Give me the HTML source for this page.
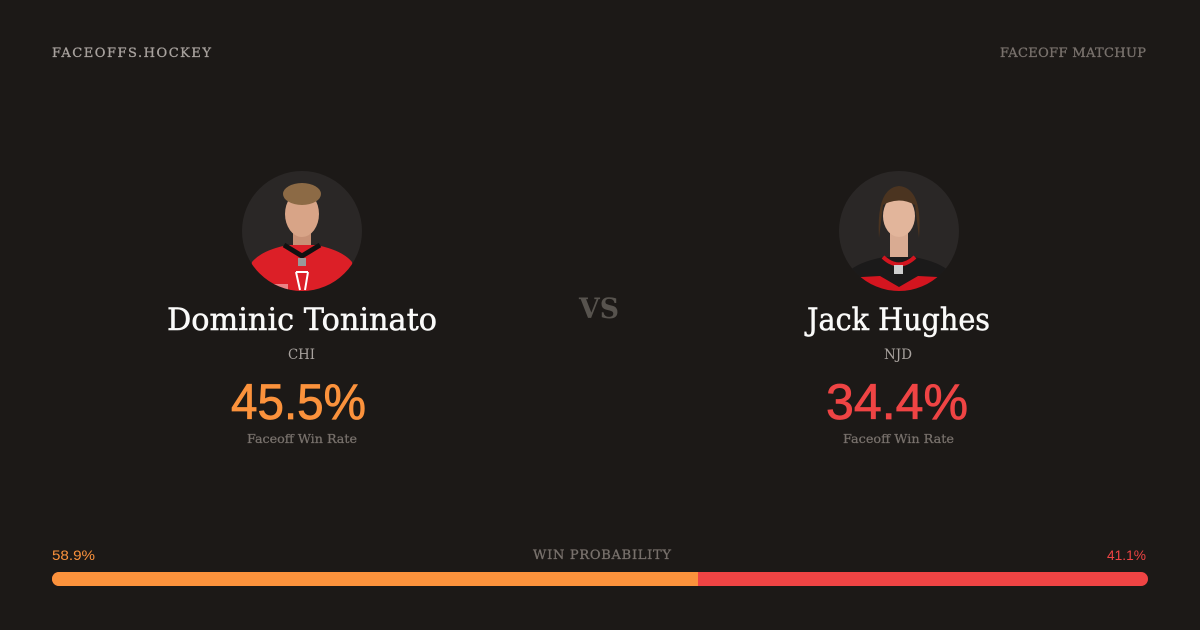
<!DOCTYPE html>
<html>
<head>
<meta charset="utf-8">
<style>
html,body{margin:0;padding:0;background:#1c1917;}
body{width:1200px;height:630px;overflow:hidden;}
svg{display:block;}
.serif{font-family:"DejaVu Serif","Liberation Serif",serif;}
.sans{font-family:"Liberation Sans","DejaVu Sans",sans-serif;}
</style>
</head>
<body>
<svg width="1200" height="630" viewBox="0 0 1200 630" xmlns="http://www.w3.org/2000/svg">
<rect width="1200" height="630" fill="#1c1917"/>
<defs>
<clipPath id="c1"><circle cx="302" cy="231" r="60"/></clipPath>
<clipPath id="c2"><circle cx="899" cy="231" r="60"/></clipPath>
</defs>

<!-- header -->
<text class="serif" x="52" y="57" font-size="13" fill="#a8a29e" stroke="#a8a29e" stroke-width="0.3" textLength="159" lengthAdjust="spacing">FACEOFFS.HOCKEY</text>
<text class="serif" x="1000" y="57" font-size="13" fill="#78716c" stroke="#78716c" stroke-width="0.3" textLength="146" lengthAdjust="spacing">FACEOFF MATCHUP</text>

<!-- left player photo -->
<circle cx="302" cy="231" r="60" fill="#2a2726"/>
<g clip-path="url(#c1)">
  <rect x="293" y="228" width="18" height="22" fill="#c89176"/>
  <path d="M246 300 L252 262 Q262 250 288 245 L316 245 Q342 250 352 262 L358 300 Z" fill="#dc1f27"/>
  <path d="M284 245 L302 256 L320 245" stroke="#111" stroke-width="5" fill="none"/>
  <rect x="298" y="258" width="8" height="8" fill="#999"/>
  <path d="M296 272 L300 290 M308 272 L305 290 M296 272 L308 272" stroke="#fff" stroke-width="2" fill="none"/>
  <ellipse cx="302" cy="214" rx="17" ry="23" fill="#d8a487"/>
  <ellipse cx="302" cy="194" rx="19" ry="11" fill="#8c6a45"/>
  <rect x="268" y="284" width="20" height="6" fill="#f4c6c6" opacity="0.6"/>
</g>

<!-- right player photo -->
<circle cx="899" cy="231" r="60" fill="#2a2726"/>
<g clip-path="url(#c2)">
  <rect x="890" y="232" width="18" height="30" fill="#d9ab92"/>
  <path d="M842 300 L848 272 Q858 262 884 257 L914 257 Q940 262 950 272 L956 300 Z" fill="#1b1a1a"/>
  <path d="M838 300 L843 278 L880 276 L899 287 L918 276 L956 278 L962 300 Z" fill="#d3151f"/>
  <path d="M883 257 Q899 272 915 257" stroke="#d3151f" stroke-width="4" fill="none"/>
  <rect x="894" y="265" width="9" height="9" fill="#cfcfcf"/>
  <ellipse cx="899" cy="216" rx="16" ry="21" fill="#e2b59b"/>
  <path d="M879 238 Q876 188 899 186 Q923 188 919 238 L915 205 Q899 196 883 205 Z" fill="#4b3420"/>
</g>

<!-- names -->
<text class="serif" x="167" y="330" font-size="31" fill="#fafaf9" stroke="#fafaf9" stroke-width="0.5" textLength="270" lengthAdjust="spacingAndGlyphs">Dominic Toninato</text>
<text class="serif" x="807" y="330" font-size="31" fill="#fafaf9" stroke="#fafaf9" stroke-width="0.5" textLength="183" lengthAdjust="spacingAndGlyphs">Jack Hughes</text>

<text class="serif" x="288" y="359" font-size="14" fill="#a8a29e" textLength="27" lengthAdjust="spacingAndGlyphs">CHI</text>
<text class="serif" x="884" y="359" font-size="14" fill="#a8a29e" textLength="28" lengthAdjust="spacingAndGlyphs">NJD</text>

<!-- VS -->
<text class="serif" x="579" y="318" font-size="28" font-weight="bold" fill="#57534e" textLength="40" lengthAdjust="spacingAndGlyphs">VS</text>

<!-- big numbers -->
<text class="sans" x="231" y="419" font-size="50" fill="#fb923c" stroke="#fb923c" stroke-width="0.8" textLength="135" lengthAdjust="spacingAndGlyphs">45.5%</text>
<text class="sans" x="826" y="419" font-size="50" fill="#ef4444" stroke="#ef4444" stroke-width="0.8" textLength="142" lengthAdjust="spacingAndGlyphs">34.4%</text>

<text class="serif" x="247" y="443" font-size="12.5" fill="#78716c" stroke="#78716c" stroke-width="0.25" textLength="110" lengthAdjust="spacingAndGlyphs">Faceoff Win Rate</text>
<text class="serif" x="843" y="443" font-size="12.5" fill="#78716c" stroke="#78716c" stroke-width="0.25" textLength="111" lengthAdjust="spacingAndGlyphs">Faceoff Win Rate</text>

<!-- bottom -->
<text class="sans" x="52" y="560" font-size="14" fill="#fb923c" textLength="43" lengthAdjust="spacingAndGlyphs">58.9%</text>
<text class="serif" x="533" y="559" font-size="13" fill="#78716c" stroke="#78716c" stroke-width="0.3" textLength="138" lengthAdjust="spacing">WIN PROBABILITY</text>
<text class="sans" x="1107" y="560" font-size="14" fill="#ef4444" textLength="39" lengthAdjust="spacingAndGlyphs">41.1%</text>

<rect x="52" y="572" width="1096" height="14" rx="7" fill="#ef4444"/>
<path d="M59 572 L698 572 L698 586 L59 586 A7 7 0 0 1 59 572 Z" fill="#fb923c"/>
</svg>
</body>
</html>
